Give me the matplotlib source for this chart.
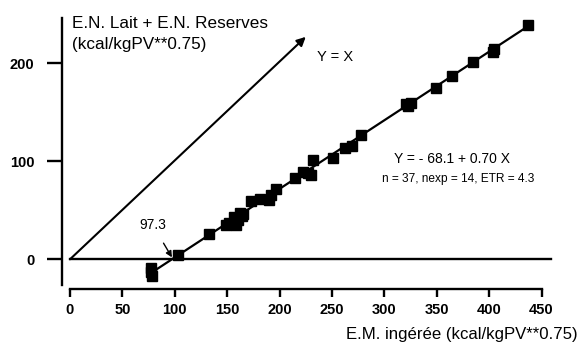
import numpy as np
import matplotlib
matplotlib.use("Agg")
import matplotlib.pyplot as plt

plt.rcParams['font.family'] = ['Liberation Sans', 'DejaVu Sans']

# === data ===
em_ingeree = [77, 77, 78, 103, 133, 149, 152, 155, 157, 160, 162, 164, 158, 165,
              173, 181, 190, 192, 197, 215, 222, 227, 230, 232, 251, 262, 269,
              278, 321, 323, 325, 349, 365, 385, 404, 405, 437]
en_total = [-9, -13, -17, 4, 26, 35, 37, 36, 43, 40, 47, 44, 35, 46,
            59, 62, 61, 66, 72, 83, 89, 88, 86, 101, 103, 114, 116,
            127, 158, 156, 160, 175, 187, 201, 212, 215, 239]

intercept, slope = -68.1, 0.70
x_intercept = 97.3
fit_range = [79, 437]
xticks = [0, 50, 100, 150, 200, 250, 300, 350, 400, 450]
yticks = [0, 100, 200]

fig = plt.figure(figsize=(5.81, 3.46), dpi=100)
ax = fig.add_axes([62/581, 1-289/346, (560-62)/581, (289-10)/346])
ax.set_xlim(-7.6, 467.6)
ax.set_ylim(-30.3, 254.4)

for s in ['top', 'right']:
    ax.spines[s].set_visible(False)
ax.spines['left'].set_bounds(-26, 246)
ax.spines['bottom'].set_bounds(0, 450)
for s in ['left', 'bottom']:
    ax.spines[s].set_linewidth(1.7)

ax.set_xticks(xticks)
ax.set_yticks(yticks)
ax.tick_params(axis='y', direction='out', length=11, width=1.7, pad=9,
               labelsize=10.5)
ax.tick_params(axis='x', direction='out', length=6, width=1.7, pad=4,
               labelsize=10.5)
for lab in ax.get_xticklabels() + ax.get_yticklabels():
    lab.set_fontweight('bold')

# zero line and Y = X arrow
ax.plot([0, 459], [0, 0], color='black', lw=1.7)
ax.annotate('', xy=(225, 227), xytext=(0, 0),
            arrowprops=dict(arrowstyle='-|>', color='black', lw=1.5,
                            mutation_scale=13, shrinkA=0, shrinkB=0))
ax.text(253, 206, 'Y = X', fontsize=10.5, ha='center', va='center')

# regression line + points
xs = np.array(fit_range)
ax.plot(xs, intercept + slope * xs, color='black', lw=1.6)
ax.plot(em_ingeree, en_total, 's', color='black', markersize=7)

ax.annotate(str(x_intercept), xy=(x_intercept, 2), xytext=(79, 35),
            fontsize=10, ha='center', va='center',
            arrowprops=dict(arrowstyle='-|>', color='black', lw=1,
                            mutation_scale=9, shrinkA=7, shrinkB=0))

ax.text(365, 102, 'Y = - 68.1 + 0.70 X', fontsize=10, ha='center', va='center')
ax.text(370, 82, 'n = 37, nexp = 14, ETR = 4.3', fontsize=8.6,
        ha='center', va='center')

fig.text(72/581, 1-23/346, 'E.N. Lait + E.N. Reserves', fontsize=12.3,
         ha='left', va='center')
fig.text(72/581, 1-45/346, '(kcal/kgPV**0.75)', fontsize=12.3,
         ha='left', va='center')
fig.text(578/581, 1-334/346, 'E.M. ingérée (kcal/kgPV**0.75)', fontsize=12.1,
         ha='right', va='center')

fig.savefig('out.png', dpi=100)
